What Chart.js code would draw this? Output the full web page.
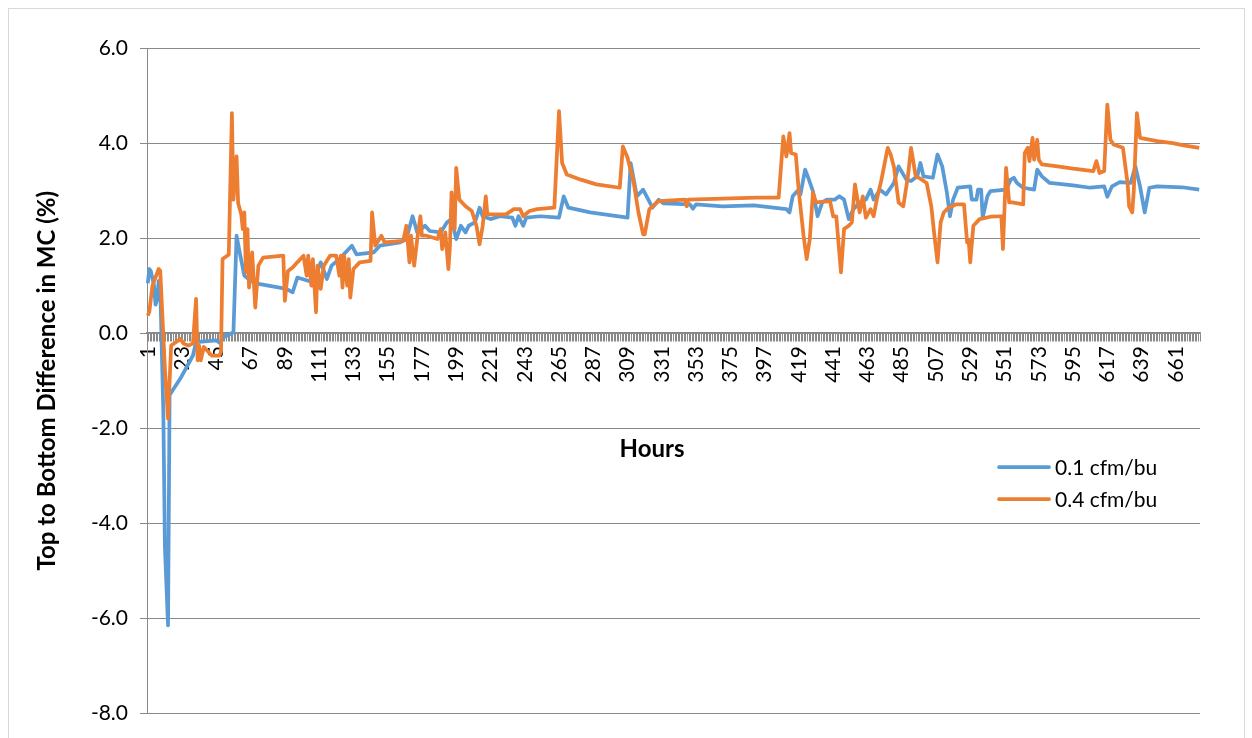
<!DOCTYPE html>
<html>
<head>
<meta charset="utf-8">
<script src="https://cdn.jsdelivr.net/npm/chart.js@4.4.1/dist/chart.umd.min.js"></script>
<style>
  html, body { margin: 0; padding: 0; background: #fff; }
  #wrap { width: 1252px; height: 738px; }
</style>
</head>
<body>
<div id="wrap"><canvas id="mcChart" width="1252" height="738"></canvas></div>
<script>
// --- Data ---
const hourCount = 676;
const hours = Array.from({ length: hourCount }, (_, i) => i + 1); // category axis 1..676
const labelEvery = 22; // tick labels shown at 1, 23, 45, ...

const yMin = -8;
const yMax = 6;
const yStep = 2;

// 0.1 cfm/bu (hour, value) breakpoints
const lowFlowHours = [1, 2, 3, 5, 6, 7, 8, 9, 11, 12, 14, 15, 22, 30, 32, 45, 47, 50, 56, 58, 60, 63, 67, 73, 90, 94, 97, 107, 112, 116, 119, 124, 132, 135, 146, 150, 163, 167, 171, 174, 179, 182, 189, 193, 196, 199, 202, 205, 207, 211, 214, 216, 221, 227, 235, 237, 239, 242, 244, 253, 265, 268, 271, 285, 309, 311, 315, 319, 325, 329, 332, 349, 351, 353, 370, 390, 411, 413, 415, 418, 420, 423, 425, 428, 431, 434, 437, 442, 445, 448, 451, 454, 458, 462, 465, 467, 471, 475, 480, 483, 488, 491, 495, 497, 499, 505, 508, 511, 514, 516, 518, 521, 529, 530, 533, 534, 536, 537, 540, 542, 552, 555, 557, 559, 563, 570, 572, 575, 580, 595, 606, 615, 617, 620, 625, 632, 635, 638, 641, 644, 649, 665, 676];
const lowFlowValues = [1.05, 1.35, 1.3, 1.0, 0.6, 0.7, 1.1, 1.0, -1.7, -4.5, -6.15, -1.3, -0.95, -0.47, -0.19, -0.15, -0.2, -0.08, 0.02, 2.05, 1.7, 1.21, 1.1, 1.03, 0.93, 0.86, 1.17, 1.07, 1.49, 1.14, 1.42, 1.56, 1.84, 1.66, 1.7, 1.84, 1.91, 1.98, 2.46, 2.12, 2.26, 2.15, 2.12, 2.33, 2.4, 1.98, 2.26, 2.12, 2.26, 2.33, 2.64, 2.46, 2.4, 2.46, 2.43, 2.26, 2.46, 2.26, 2.43, 2.46, 2.43, 2.88, 2.64, 2.54, 2.43, 3.58, 2.88, 3.02, 2.64, 2.81, 2.73, 2.71, 2.62, 2.71, 2.67, 2.69, 2.61, 2.54, 2.88, 2.99, 2.92, 3.44, 3.27, 2.99, 2.46, 2.75, 2.81, 2.81, 2.88, 2.81, 2.4, 2.61, 2.75, 2.81, 3.02, 2.81, 3.02, 2.92, 3.16, 3.51, 3.23, 3.2, 3.3, 3.58, 3.3, 3.27, 3.76, 3.51, 2.96, 2.46, 2.81, 3.06, 3.09, 2.81, 2.81, 3.02, 3.02, 2.43, 2.88, 2.99, 3.02, 3.23, 3.27, 3.16, 3.06, 3.02, 3.44, 3.3, 3.16, 3.11, 3.06, 3.09, 2.87, 3.09, 3.18, 3.16, 3.51, 3.09, 2.54, 3.06, 3.09, 3.07, 3.02];

// 0.4 cfm/bu (hour, value) breakpoints
const highFlowHours = [1, 2, 4, 8, 9, 12, 14, 16, 19, 22, 24, 27, 30, 32, 33, 34, 35, 37, 42, 47, 48, 49, 52, 53, 55, 56, 58, 59, 61, 62, 63, 64, 65, 66, 68, 70, 72, 75, 88, 89, 91, 94, 97, 101, 103, 104, 106, 107, 109, 110, 112, 114, 118, 122, 124, 125, 126, 127, 129, 130, 131, 133, 137, 144, 145, 147, 151, 153, 165, 167, 169, 170, 172, 174, 176, 177, 180, 187, 189, 190, 192, 194, 195, 196, 198, 199, 201, 205, 209, 212, 214, 216, 218, 219, 231, 236, 240, 242, 246, 251, 262, 265, 267, 270, 279, 289, 304, 306, 309, 313, 316, 319, 320, 323, 329, 346, 347, 348, 370, 392, 406, 409, 411, 413, 414, 417, 419, 422, 424, 426, 428, 430, 439, 441, 443, 446, 448, 451, 453, 455, 458, 460, 462, 465, 467, 469, 472, 476, 478, 480, 483, 486, 489, 491, 494, 497, 501, 504, 506, 508, 510, 512, 515, 520, 525, 527, 528, 529, 531, 535, 542, 549, 550, 552, 554, 556, 563, 564, 566, 567, 569, 570, 572, 573, 575, 585, 595, 608, 610, 612, 615, 617, 619, 621, 627, 630, 631, 633, 634, 636, 638, 649, 659, 666, 676];
const highFlowValues = [0.37, 0.45, 1.0, 1.35, 1.31, -0.75, -1.8, -0.26, -0.19, -0.12, -0.22, -0.26, -0.22, 0.72, -0.57, -0.26, -0.57, -0.29, -0.47, -0.47, -0.4, 1.56, 1.63, 1.65, 4.63, 2.81, 3.72, 2.74, 2.5, 2.19, 2.54, 1.28, 2.19, 0.96, 1.7, 0.54, 1.42, 1.59, 1.63, 0.68, 1.31, 1.38, 1.49, 1.63, 1.21, 1.63, 1.0, 1.56, 0.44, 1.42, 0.93, 1.42, 1.63, 1.63, 1.21, 1.63, 0.96, 1.63, 1.0, 1.56, 0.75, 1.35, 1.49, 1.52, 2.54, 1.84, 2.05, 1.91, 1.94, 2.26, 1.49, 2.05, 1.42, 1.98, 2.46, 2.05, 2.05, 1.98, 2.19, 1.77, 2.12, 1.35, 1.84, 2.96, 2.19, 3.48, 2.81, 2.67, 2.57, 2.26, 1.87, 2.26, 2.88, 2.5, 2.5, 2.61, 2.61, 2.46, 2.57, 2.61, 2.64, 4.67, 3.58, 3.34, 3.23, 3.13, 3.06, 3.93, 3.69, 3.16, 2.54, 2.08, 2.08, 2.61, 2.78, 2.81, 2.67, 2.81, 2.83, 2.85, 2.85, 4.14, 3.72, 4.21, 3.79, 3.76, 2.96, 2.05, 1.56, 1.98, 2.96, 2.75, 2.78, 2.46, 2.46, 1.28, 2.19, 2.26, 2.33, 3.13, 2.54, 2.88, 2.43, 2.61, 2.46, 2.81, 3.23, 3.9, 3.75, 3.5, 2.75, 2.67, 3.3, 3.9, 3.3, 3.25, 3.16, 2.67, 2.05, 1.49, 2.33, 2.54, 2.64, 2.71, 2.71, 1.91, 1.95, 1.49, 2.26, 2.4, 2.45, 2.46, 1.77, 3.48, 2.75, 2.75, 2.71, 3.79, 3.9, 3.62, 4.11, 3.65, 4.07, 3.65, 3.55, 3.51, 3.46, 3.41, 3.62, 3.37, 3.41, 4.81, 4.07, 3.97, 3.9, 3.16, 2.67, 2.54, 3.0, 4.63, 4.11, 4.04, 4.0, 3.95, 3.9];

const seriesLabels = ['0.1 cfm/bu', '0.4 cfm/bu'];
const seriesColors = ['#5B9BD5', '#ED7D31'];

const axisGray = '#898989';
const fontFamily = 'Lato, "Open Sans", sans-serif';
const tickFontSize = 21;
const titleFontSize = 24;

// --- Small helper plugins: frame, x-axis title, legend ---
const framePlugin = {
    id: 'frame',
    beforeDraw(chart) {
        const ctx = chart.ctx;
        ctx.save();
        ctx.fillStyle = '#ffffff';
        ctx.fillRect(0, 0, chart.width, chart.height);
        ctx.strokeStyle = '#d9d9d9';
        ctx.lineWidth = 1;
        ctx.strokeRect(8.5, 8.5, chart.width - 16, chart.height + 20);
        ctx.restore();
    }
};

const annotationPlugin = {
    id: 'hoursAndLegend',
    afterDraw(chart) {
        const ctx = chart.ctx;
        const yZero = chart.scales.y.getPixelForValue(0);
        ctx.save();
        // x axis title (axis sits at y = 0, title floats below the labels)
        ctx.fillStyle = '#000';
        ctx.font = 'bold ' + titleFontSize + 'px ' + fontFamily;
        ctx.textAlign = 'center';
        ctx.textBaseline = 'middle';
        ctx.fillText('Hours', 652, yZero + 116);

        // legend
        ctx.font = tickFontSize + 'px ' + fontFamily;
        ctx.textAlign = 'left';
        chart.data.datasets.forEach((ds, i) => {
            const y = 467 + i * 32;
            ctx.strokeStyle = ds.borderColor;
            ctx.lineWidth = 3.75;
            ctx.lineCap = 'round';
            ctx.beginPath();
            ctx.moveTo(999, y);
            ctx.lineTo(1049, y);
            ctx.stroke();
            ctx.fillStyle = '#000';
            ctx.fillText(ds.label, 1055, y + 1);
        });
        ctx.restore();
    }
};

document.addEventListener('DOMContentLoaded', function() {
    const ctx = document.getElementById('mcChart');

    const makeSeries = (hrs, vals) => hrs.map((h, i) => ({ x: h, y: vals[i] }));

    new Chart(ctx, {
        type: 'line',
        data: {
            labels: hours,
            datasets: [
                {
                    label: seriesLabels[0],
                    data: makeSeries(lowFlowHours, lowFlowValues),
                    borderColor: seriesColors[0],
                    backgroundColor: seriesColors[0],
                    borderWidth: 3.75,
                    pointRadius: 0,
                    tension: 0,
                    borderJoinStyle: 'round',
                    order: 2
                },
                {
                    label: seriesLabels[1],
                    data: makeSeries(highFlowHours, highFlowValues),
                    borderColor: seriesColors[1],
                    backgroundColor: seriesColors[1],
                    borderWidth: 3.75,
                    pointRadius: 0,
                    tension: 0,
                    borderJoinStyle: 'round',
                    order: 1
                }
            ]
        },
        options: {
            responsive: false,
            animation: false,
            devicePixelRatio: 1,
            layout: { padding: { left: 0, top: 48, right: 52, bottom: 22 } },
            plugins: {
                legend: { display: false },
                tooltip: { enabled: false }
            },
            scales: {
                x: {
                    type: 'category',
                    position: { y: 0 },
                    offset: true,
                    grid: {
                        display: true,
                        offset: true,
                        drawOnChartArea: false,
                        drawTicks: true,
                        tickLength: 8,
                        color: axisGray,
                        lineWidth: 1
                    },
                    border: { display: true, color: axisGray, width: 1.5 },
                    ticks: {
                        autoSkip: false,
                        minRotation: 90,
                        maxRotation: 90,
                        padding: 5,
                        color: '#000',
                        font: { family: fontFamily, size: tickFontSize },
                        callback: function(val, index) {
                            return index % labelEvery === 0 ? String(hours[index]) : '';
                        }
                    },
                    afterFit: scale => { scale.height = 0; }
                },
                y: {
                    min: yMin,
                    max: yMax,
                    ticks: {
                        stepSize: yStep,
                        padding: 12,
                        color: '#000',
                        font: { family: fontFamily, size: tickFontSize },
                        callback: v => v.toFixed(1)
                    },
                    grid: { color: axisGray, lineWidth: 1, tickLength: 7 },
                    border: { display: true, color: axisGray, width: 1 },
                    title: {
                        display: true,
                        text: 'Top to Bottom Difference in MC (%)',
                        color: '#000',
                        font: { family: fontFamily, size: titleFontSize, weight: 'bold' },
                        padding: { top: 33, bottom: 0 }
                    },
                    afterFit: scale => { scale.width = 147; }
                }
            }
        },
        plugins: [framePlugin, annotationPlugin]
    });
});
</script>
</body>
</html>
